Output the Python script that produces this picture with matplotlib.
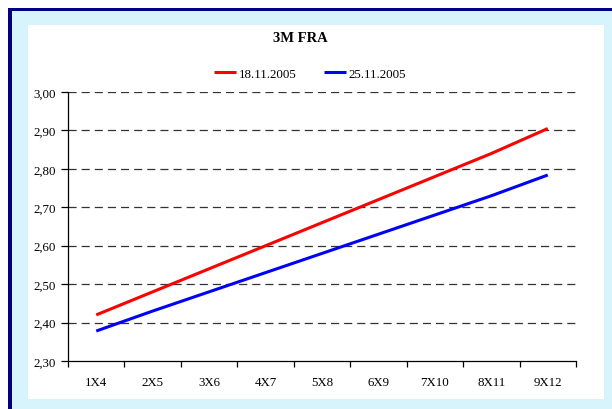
import matplotlib
matplotlib.use("Agg")
import matplotlib.pyplot as plt
from matplotlib.patches import Rectangle
from matplotlib.ticker import FixedLocator, NullFormatter

# Data
categories = ["1X4", "2X5", "3X6", "4X7", "5X8", "6X9", "7X10", "8X11", "9X12"]
fra_18_11 = [2.42, 2.48, 2.54, 2.60, 2.66, 2.72, 2.78, 2.84, 2.905]
fra_25_11 = [2.378, 2.43, 2.48, 2.53, 2.58, 2.63, 2.68, 2.73, 2.784]
series_labels = ["18.11.2005", "25.11.2005"]
y_ticks = [2.30, 2.40, 2.50, 2.60, 2.70, 2.80, 2.90, 3.00]

plt.rcParams["font.family"] = ["Liberation Serif", "DejaVu Serif"]

W, H = 612, 410
fig = plt.figure(figsize=(W / 100, H / 100), dpi=100)
fig.patch.set_facecolor("white")

def px_rect(x0, y0, x1, y1, color):
    fig.patches.append(Rectangle((x0 / W, 1 - y1 / H), (x1 - x0) / W, (y1 - y0) / H,
                                 transform=fig.transFigure, facecolor=color,
                                 edgecolor="none", zorder=-5))

# Frame: navy border, light blue surround, white panel
px_rect(8, 9, W, H, "#000080")
px_rect(12, 12, W, H, "#d7f4fd")
px_rect(28, 26, 604, 400, "white")

ax = fig.add_axes([68 / W, 1 - 362 / H, (576 - 68) / W, (362 - 93) / H])
ax.set_facecolor("none")

x = list(range(len(categories)))
l1, = ax.plot(x, fra_18_11, color="#ff0000", lw=2.2, solid_capstyle="butt", zorder=3)
l2, = ax.plot(x, fra_25_11, color="#0000ff", lw=2.2, solid_capstyle="butt", zorder=3)

ax.set_xlim(-0.5, len(categories) - 0.5)
ax.set_ylim(2.30, 3.00)

ax.set_yticks(y_ticks)
ax.set_yticklabels([f"{v:.2f}".replace(".", ",") for v in y_ticks], fontsize=9.3)
for v in y_ticks[1:]:
    ax.axhline(v, color="#333333", lw=0.9, dashes=(6.5, 4.0), zorder=1)

# Tick marks at category boundaries, labels centred on categories
ax.xaxis.set_major_locator(FixedLocator([i - 0.5 for i in range(len(categories) + 1)]))
ax.xaxis.set_major_formatter(NullFormatter())
ax.xaxis.set_minor_locator(FixedLocator(x))
ax.set_xticklabels(categories, minor=True, fontsize=9.3)
ax.tick_params(axis="x", which="major", length=4, width=0.9, direction="out")
ax.tick_params(axis="x", which="minor", length=0, pad=11)
ax.tick_params(axis="y", length=5, width=0.9, direction="out", pad=3.5)

for s in ("top", "right"):
    ax.spines[s].set_visible(False)
for s in ("left", "bottom"):
    ax.spines[s].set_linewidth(0.9)

fig.text(300 / W, 1 - 38 / H, "3M FRA", ha="center", va="center",
         fontsize=10.5, fontweight="bold")

fig.legend([l1, l2], series_labels, loc="center", ncol=2,
           bbox_to_anchor=(310 / W, 1 - 75 / H), frameon=False, fontsize=9.3,
           handlelength=1.7, handletextpad=0.2, columnspacing=2.1)

fig.savefig("out.png", dpi=100)
